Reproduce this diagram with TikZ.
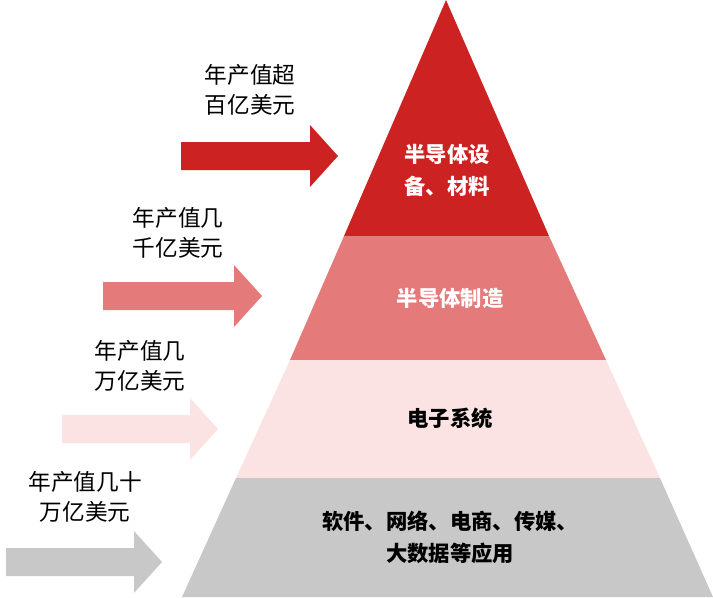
\documentclass[tikz,border=0pt]{standalone}
\usepackage{fontspec}
\setmainfont{Noto Sans CJK SC}
\newfontfamily\cjkb[BoldFont={Noto Sans CJK SC Bold}]{Noto Sans CJK SC}
\definecolor{lv1}{HTML}{CC2222}
\definecolor{lv2}{HTML}{E47A7A}
\definecolor{lv3}{HTML}{FBE3E3}
\definecolor{lv4}{HTML}{C8C8C8}
\begin{document}
\begin{tikzpicture}[x=0.75pt,y=-0.75pt,
  lbl/.style={font=\fontsize{17}{22}\selectfont,align=center},
  ptxt/.style={font=\fontsize{16}{24}\selectfont\bfseries,align=center}]
\useasboundingbox (0,0) rectangle (713,597);
\def\arr#1#2#3#4#5{\fill[#5] (#1,#2-14) -- (#3-28,#2-14) -- (#3-28,#2-31) -- (#3,#2) -- (#3-28,#2+31) -- (#3-28,#2+14) -- (#1,#2+14) -- cycle;}
% pyramid
\fill[lv1] (446,0) -- (549,236) -- (344,236) -- cycle;
\fill[lv2] (344,236) -- (549,236) -- (606,360) -- (290,360) -- cycle;
\fill[lv3] (290,360) -- (606,360) -- (660,478) -- (236,478) -- cycle;
\fill[lv4] (236,478) -- (660,478) -- (713,597) -- (182,597) -- cycle;
\node[ptxt,text=white] (t1) at (447,170) {半导体设\\备、材料};
\node[ptxt,text=white] (t2) at (450,298) {半导体制造};
\node[ptxt] (t3) at (450,418) {电子系统};
\node[ptxt] (t4) at (450,537) {软件、网络、电商、传媒、\\大数据等应用};
% arrows
\arr{181}{156}{338}{}{lv1}
\arr{103}{296}{262}{}{lv2}
\arr{62}{429}{218}{}{lv3}
\arr{6}{562}{162}{}{lv4}
\node[lbl] (a1) at (250,90) {年产值超\\百亿美元};
\node[lbl] (a2) at (178,233) {年产值几\\千亿美元};
\node[lbl] (a3) at (140,366) {年产值几\\万亿美元};
\node[lbl] (a4) at (85,497) {年产值几十\\万亿美元};
\end{tikzpicture}
\end{document}
